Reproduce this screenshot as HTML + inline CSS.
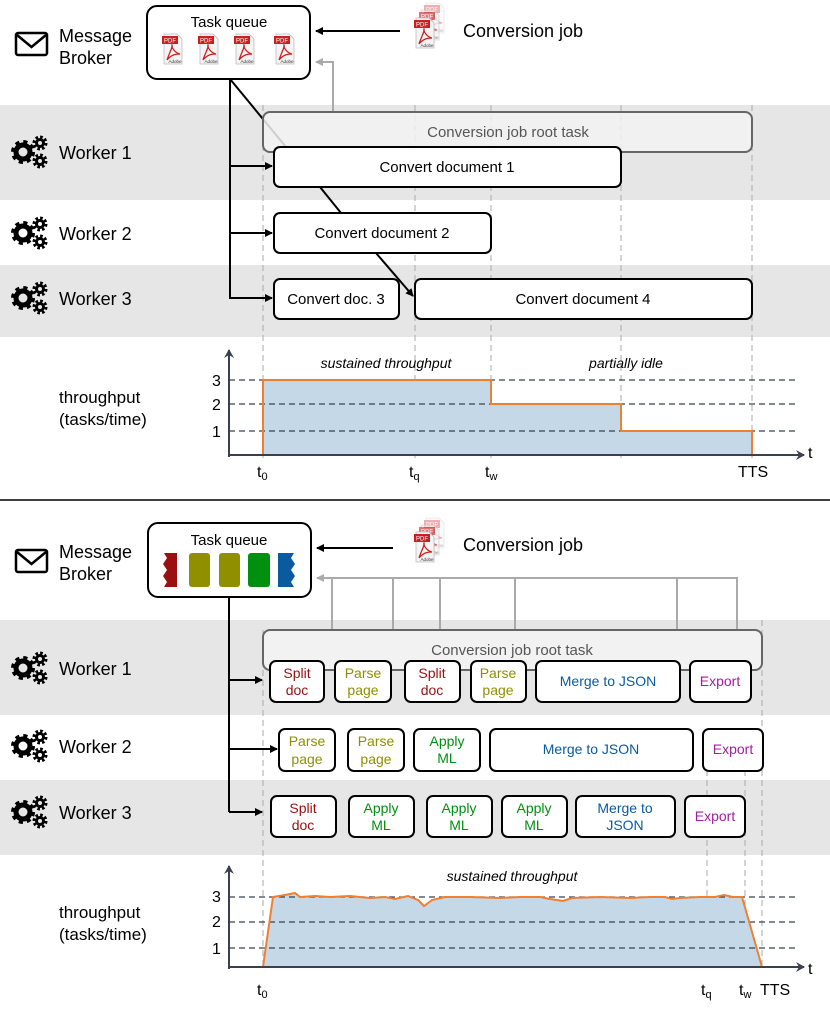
<!DOCTYPE html>
<html><head><meta charset="utf-8"><style>
html,body{margin:0;padding:0;background:#fff}
svg{display:block}
text{font-family:"Liberation Sans",sans-serif}
</style></head><body>
<svg width="830" height="1013" viewBox="0 0 830 1013" xmlns="http://www.w3.org/2000/svg">
<defs>
<marker id="ab" markerWidth="8" markerHeight="8" refX="7" refY="4" orient="auto" markerUnits="userSpaceOnUse"><path d="M0,0 L8,4 L0,8 Z" fill="#000"/></marker>
<marker id="ag" markerWidth="8" markerHeight="8" refX="7" refY="4" orient="auto" markerUnits="userSpaceOnUse"><path d="M0,0 L8,4 L0,8 Z" fill="#aaa"/></marker>
<marker id="ax" markerWidth="10" markerHeight="10" refX="8" refY="5" orient="auto" markerUnits="userSpaceOnUse"><path d="M0,0 L9,5 L0,10 L3,5 Z" fill="#3a4050"/></marker>
<g id="gear">
<circle cx="23" cy="0" r="7" fill="none" stroke="#000" stroke-width="5"/>
<circle cx="23" cy="0" r="10" fill="none" stroke="#000" stroke-width="4" stroke-dasharray="4 3.85"/>
<circle cx="40" cy="-9" r="3.5" fill="none" stroke="#000" stroke-width="3"/>
<circle cx="40" cy="-9" r="6" fill="none" stroke="#000" stroke-width="3" stroke-dasharray="2.6 2.1"/>
<circle cx="40" cy="9" r="3.5" fill="none" stroke="#000" stroke-width="3"/>
<circle cx="40" cy="9" r="6" fill="none" stroke="#000" stroke-width="3" stroke-dasharray="2.6 2.1"/>
</g>
<g id="pdf">
<path d="M0,0 H13 L18,5 V30 H0 Z" fill="#f4f4f4" stroke="#bbb" stroke-width="0.8"/>
<rect x="-2" y="2" width="16" height="8" fill="#c8201e"/>
<text x="6" y="8.5" font-size="6" fill="#fff" text-anchor="middle">PDF</text>
<path d="M3,26 C6,17 9,13 8,11 C7,13 11,19 16,20 C11,20 7,21 3,26" fill="none" stroke="#d02020" stroke-width="1.3"/>
<text x="11" y="29" font-size="4.5" fill="#333" text-anchor="middle">Adobe</text>
</g>
<g id="env"><rect x="0" y="0" width="31" height="22" rx="2" fill="none" stroke="#000" stroke-width="2.5"/><path d="M1,2 L15.5,14 L30,2" fill="none" stroke="#000" stroke-width="2.5"/></g>
</defs>

<!-- TOP SECTION -->
<rect x="0" y="105" width="830" height="95" fill="#e6e6e6"/>
<rect x="0" y="265" width="830" height="72" fill="#e6e6e6"/>

<use href="#env" x="16" y="33"/>
<text x="59" y="42" font-size="18">Message</text>
<text x="59" y="64" font-size="18">Broker</text>
<use href="#gear" x="0" y="152"/>
<text x="59" y="159" font-size="18">Worker 1</text>
<use href="#gear" x="0" y="233"/>
<text x="59" y="240" font-size="18">Worker 2</text>
<use href="#gear" x="0" y="298"/>
<text x="59" y="305" font-size="18">Worker 3</text>

<g stroke="#aaa" stroke-width="1" stroke-dasharray="6 4">
<line x1="263" y1="105" x2="263" y2="458"/>
<line x1="415" y1="105" x2="415" y2="458"/>
<line x1="491" y1="105" x2="491" y2="458"/>
<line x1="621" y1="105" x2="621" y2="458"/>
<line x1="752" y1="105" x2="752" y2="458"/>
</g>

<rect x="147" y="6" width="163" height="73" rx="10" fill="#fff" stroke="#000" stroke-width="2"/>
<text x="229" y="27" font-size="15" text-anchor="middle">Task queue</text>
<use href="#pdf" x="164" y="34"/>
<use href="#pdf" x="200" y="34"/>
<use href="#pdf" x="236" y="34"/>
<use href="#pdf" x="276" y="34"/>
<line x1="400" y1="31" x2="316" y2="31" stroke="#000" stroke-width="2" marker-end="url(#ab)"/>
<polyline points="333,111 333,62 316,62" fill="none" stroke="#aaa" stroke-width="2" marker-end="url(#ag)"/>
<use href="#pdf" x="426" y="3" opacity="0.35"/>
<use href="#pdf" x="421" y="10" opacity="0.6"/>
<use href="#pdf" x="416" y="18"/>
<text x="463" y="37" font-size="18">Conversion job</text>

<line x1="230" y1="79" x2="286" y2="147" stroke="#000" stroke-width="2"/>
<rect x="263" y="112" width="489" height="40" rx="7" fill="#f2f2f2" fill-opacity="0.85" stroke="#666" stroke-width="2"/>
<text x="508" y="137" font-size="15" fill="#555" text-anchor="middle">Conversion job root task</text>

<line x1="320" y1="187" x2="341" y2="213" stroke="#000" stroke-width="2"/>
<line x1="376" y1="253" x2="413" y2="296" stroke="#000" stroke-width="2" marker-end="url(#ab)"/>
<line x1="230" y1="79" x2="230" y2="299" stroke="#000" stroke-width="2"/>
<line x1="230" y1="166" x2="272" y2="166" stroke="#000" stroke-width="2" marker-end="url(#ab)"/>
<line x1="230" y1="233" x2="272" y2="233" stroke="#000" stroke-width="2" marker-end="url(#ab)"/>
<line x1="230" y1="298" x2="272" y2="298" stroke="#000" stroke-width="2" marker-end="url(#ab)"/>

<g fill="#fff" stroke="#000" stroke-width="2">
<rect x="274" y="147" width="347" height="40" rx="6"/>
<rect x="274" y="213" width="217" height="40" rx="6"/>
<rect x="274" y="279" width="125" height="40" rx="6"/>
<rect x="415" y="279" width="337" height="40" rx="6"/>
</g>
<g font-size="15" text-anchor="middle">
<text x="447" y="172">Convert document 1</text>
<text x="382" y="238">Convert document 2</text>
<text x="336" y="304">Convert doc. 3</text>
<text x="583" y="304">Convert document 4</text>
</g>

<text x="59" y="403" font-size="17">throughput</text>
<text x="59" y="425" font-size="17">(tasks/time)</text>
<path d="M263,455 V380 H491 V404 H621 V431 H752 V455 Z" fill="#c5d8e7"/>
<g stroke="#3a4050" stroke-width="1.3" stroke-dasharray="6 4">
<line x1="229" y1="380" x2="795" y2="380"/>
<line x1="229" y1="404" x2="795" y2="404"/>
<line x1="229" y1="431" x2="795" y2="431"/>
</g>
<path d="M263,455 V380 H491 V404 H621 V431 H752 V455" fill="none" stroke="#f08030" stroke-width="2"/>
<line x1="229" y1="455" x2="804" y2="455" stroke="#3a4050" stroke-width="2" marker-end="url(#ax)"/>
<line x1="229" y1="457" x2="229" y2="350" stroke="#3a4050" stroke-width="2" marker-end="url(#ax)"/>
<g font-size="16">
<text x="212" y="386">3</text><text x="212" y="410">2</text><text x="212" y="437">1</text>
<text x="808" y="458">t</text>
<text x="257" y="477">t<tspan font-size="11" dy="3">0</tspan></text>
<text x="409" y="477">t<tspan font-size="11" dy="3">q</tspan></text>
<text x="485" y="477">t<tspan font-size="11" dy="3">w</tspan></text>
<text x="738" y="477">TTS</text>
</g>
<text x="386" y="368" font-size="14" font-style="italic" text-anchor="middle">sustained throughput</text>
<text x="626" y="368" font-size="14" font-style="italic" text-anchor="middle">partially idle</text>

<line x1="0" y1="500" x2="830" y2="500" stroke="#000" stroke-width="1.5"/>

<!-- BOTTOM SECTION -->
<rect x="0" y="620" width="830" height="95" fill="#e6e6e6"/>
<rect x="0" y="780" width="830" height="75" fill="#e6e6e6"/>

<use href="#env" x="16" y="550"/>
<text x="59" y="558" font-size="18">Message</text>
<text x="59" y="580" font-size="18">Broker</text>
<use href="#gear" x="0" y="668"/>
<text x="59" y="675" font-size="18">Worker 1</text>
<use href="#gear" x="0" y="746"/>
<text x="59" y="753" font-size="18">Worker 2</text>
<use href="#gear" x="0" y="812"/>
<text x="59" y="819" font-size="18">Worker 3</text>

<g stroke="#aaa" stroke-width="1" stroke-dasharray="6 4">
<line x1="263" y1="630" x2="263" y2="970"/>
<line x1="707" y1="760" x2="707" y2="970"/>
<line x1="745" y1="760" x2="745" y2="970"/>
<line x1="762" y1="620" x2="762" y2="970"/>
</g>

<rect x="148" y="523" width="163" height="74" rx="10" fill="#fff" stroke="#000" stroke-width="2"/>
<text x="229" y="545" font-size="15" text-anchor="middle">Task queue</text>
<path d="M164,553 h13 v34 h-13 l3,-5 l-4,-6 l4,-6 l-4,-6 l4,-6 z" fill="#9a1010"/>
<rect x="189" y="553" width="21" height="34" rx="3" fill="#8f8f00"/>
<rect x="219" y="553" width="21" height="34" rx="3" fill="#8f8f00"/>
<rect x="248" y="553" width="22" height="34" rx="3" fill="#00900f"/>
<path d="M278,553 h16 l-3,5 l4,6 l-4,6 l4,6 l-4,6 l3,5 h-16 z" fill="#0a5aa0"/>
<line x1="393" y1="548" x2="317" y2="548" stroke="#000" stroke-width="2" marker-end="url(#ab)"/>
<use href="#pdf" x="426" y="518" opacity="0.35"/>
<use href="#pdf" x="421" y="525" opacity="0.6"/>
<use href="#pdf" x="416" y="532"/>
<text x="463" y="551" font-size="18">Conversion job</text>

<g fill="none" stroke="#aaa" stroke-width="2">
<polyline points="737,630 737,578 317,578" marker-end="url(#ag)"/>
<line x1="332" y1="578" x2="332" y2="630"/>
<line x1="393" y1="578" x2="393" y2="630"/>
<line x1="440" y1="578" x2="440" y2="630"/>
<line x1="515" y1="578" x2="515" y2="630"/>
<line x1="677" y1="578" x2="677" y2="630"/>
</g>
<rect x="263" y="630" width="499" height="40" rx="7" fill="#f2f2f2" stroke="#666" stroke-width="2"/>
<text x="512" y="655" font-size="15" fill="#555" text-anchor="middle">Conversion job root task</text>

<line x1="229" y1="597" x2="229" y2="812" stroke="#000" stroke-width="2"/>
<line x1="229" y1="680" x2="262" y2="680" stroke="#000" stroke-width="2" marker-end="url(#ab)"/>
<line x1="229" y1="749" x2="277" y2="749" stroke="#000" stroke-width="2" marker-end="url(#ab)"/>
<line x1="229" y1="812" x2="262" y2="812" stroke="#000" stroke-width="2" marker-end="url(#ab)"/>

<g fill="#fff" stroke="#000" stroke-width="2">
<rect x="270" y="661" width="54" height="41" rx="6"/>
<rect x="335" y="661" width="56" height="41" rx="6"/>
<rect x="405" y="661" width="55" height="41" rx="6"/>
<rect x="471" y="661" width="55" height="41" rx="6"/>
<rect x="536" y="661" width="144" height="41" rx="6"/>
<rect x="690" y="661" width="61" height="41" rx="6"/>
<rect x="279" y="729" width="56" height="42" rx="6"/>
<rect x="348" y="729" width="56" height="42" rx="6"/>
<rect x="414" y="729" width="66" height="42" rx="6"/>
<rect x="490" y="729" width="203" height="42" rx="6"/>
<rect x="703" y="729" width="60" height="42" rx="6"/>
<rect x="271" y="796" width="65" height="41" rx="6"/>
<rect x="349" y="796" width="65" height="41" rx="6"/>
<rect x="427" y="796" width="65" height="41" rx="6"/>
<rect x="502" y="796" width="65" height="41" rx="6"/>
<rect x="576" y="796" width="99" height="41" rx="6"/>
<rect x="685" y="796" width="60" height="41" rx="6"/>
</g>
<g font-size="14" text-anchor="middle">
<g fill="#9a1010"><text x="297" y="678">Split</text><text x="297" y="695">doc</text>
<text x="432" y="678">Split</text><text x="432" y="695">doc</text>
<text x="303" y="813">Split</text><text x="303" y="830">doc</text></g>
<g fill="#8f8f00"><text x="363" y="678">Parse</text><text x="363" y="695">page</text>
<text x="498" y="678">Parse</text><text x="498" y="695">page</text>
<text x="307" y="746">Parse</text><text x="307" y="764">page</text>
<text x="376" y="746">Parse</text><text x="376" y="764">page</text></g>
<g fill="#00900f"><text x="447" y="746">Apply</text><text x="447" y="763">ML</text>
<text x="381" y="813">Apply</text><text x="381" y="830">ML</text>
<text x="459" y="813">Apply</text><text x="459" y="830">ML</text>
<text x="534" y="813">Apply</text><text x="534" y="830">ML</text></g>
<g fill="#0a5aa0"><text x="608" y="686">Merge to  JSON</text>
<text x="591" y="754">Merge to  JSON</text>
<text x="625" y="813">Merge to</text><text x="625" y="830">JSON</text></g>
<g fill="#a020a0"><text x="720" y="686">Export</text>
<text x="733" y="754">Export</text>
<text x="715" y="821">Export</text></g>
</g>

<text x="59" y="918" font-size="17">throughput</text>
<text x="59" y="940" font-size="17">(tasks/time)</text>
<path d="M263,967 L273,897 L285,895 L295,893 L300,897 L315,896 L330,897 L350,896 L370,898 L385,897 L395,899 L408,896 L418,900 L424,906 L432,900 L445,897 L470,897 L500,898 L520,897 L540,897 L550,899 L563,901 L572,898 L600,897 L630,898 L650,897 L665,897 L672,899 L680,898 L700,897 L715,897 L724,895 L733,897 L742,897 L762,967 Z" fill="#c5d8e7"/>
<g stroke="#3a4050" stroke-width="1.3" stroke-dasharray="6 4">
<line x1="229" y1="897" x2="795" y2="897"/>
<line x1="229" y1="922" x2="795" y2="922"/>
<line x1="229" y1="948" x2="795" y2="948"/>
</g>
<path d="M263,967 L273,897 L285,895 L295,893 L300,897 L315,896 L330,897 L350,896 L370,898 L385,897 L395,899 L408,896 L418,900 L424,906 L432,900 L445,897 L470,897 L500,898 L520,897 L540,897 L550,899 L563,901 L572,898 L600,897 L630,898 L650,897 L665,897 L672,899 L680,898 L700,897 L715,897 L724,895 L733,897 L742,897 L762,967" fill="none" stroke="#f08030" stroke-width="2"/>
<line x1="229" y1="967" x2="804" y2="967" stroke="#3a4050" stroke-width="2" marker-end="url(#ax)"/>
<line x1="229" y1="969" x2="229" y2="866" stroke="#3a4050" stroke-width="2" marker-end="url(#ax)"/>
<g font-size="16">
<text x="212" y="902">3</text><text x="212" y="927">2</text><text x="212" y="954">1</text>
<text x="808" y="974">t</text>
<text x="257" y="995">t<tspan font-size="11" dy="3">0</tspan></text>
<text x="701" y="995">t<tspan font-size="11" dy="3">q</tspan></text>
<text x="739" y="995">t<tspan font-size="11" dy="3">w</tspan></text>
<text x="760" y="995">TTS</text>
</g>
<text x="512" y="881" font-size="14" font-style="italic" text-anchor="middle">sustained throughput</text>
</svg>
</body></html>
